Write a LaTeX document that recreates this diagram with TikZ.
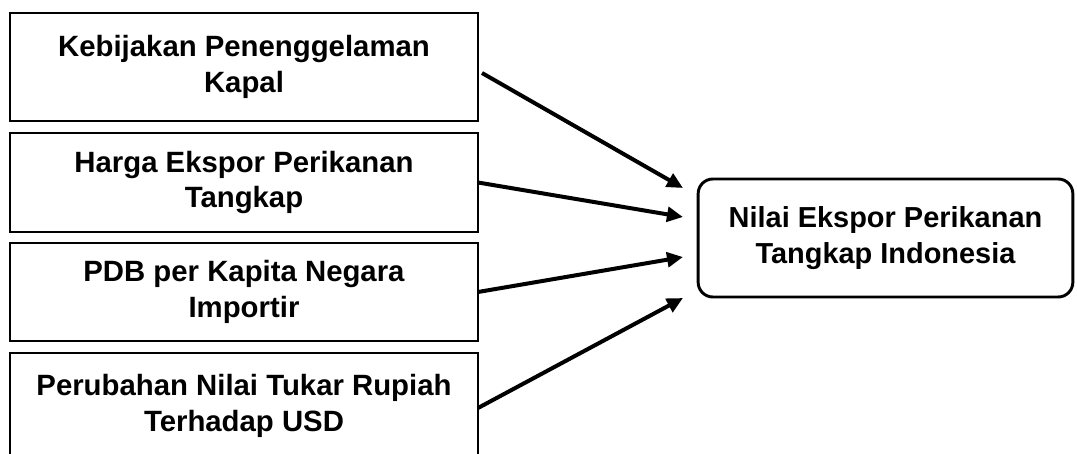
\documentclass[tikz,border=0pt]{standalone}
\usepackage{fontspec}
\setmainfont{Liberation Sans}
\usetikzlibrary{arrows.meta,calc}
\begin{document}
\begin{tikzpicture}[x=0.75pt,y=-0.75pt,
  src/.style={draw,line width=2.2pt,minimum width=351pt,inner sep=0pt,outer sep=0pt,align=center,font=\bfseries\fontsize{22}{26.5}\selectfont},
  tgt/.style={draw,line width=2.2pt,rounded corners=11pt,minimum width=281pt,minimum height=88.5pt,inner sep=0pt,outer sep=0pt,align=center,font=\bfseries\fontsize{21.7}{27}\selectfont},
  arr/.style={line width=3pt,-{Triangle[length=12pt,width=11pt]}}]
\useasboundingbox (0,0) rectangle (1077,453);
\node[src,minimum height=81pt] (b1) at (244,67) {Kebijakan Penenggelaman\\Kapal};
\node[src,minimum height=74.25pt] (b2) at (244,182.5) {Harga Ekspor Perikanan\\Tangkap};
\node[src,minimum height=73.5pt] (b3) at (244,292) {PDB per Kapita Negara\\Importir};
\node[src,minimum height=79.5pt] (b4) at (244,406) {Perubahan Nilai Tukar Rupiah\\Terhadap USD};
\node[tgt] (r) at (885.5,238) {Nilai Ekspor Perikanan\\Tangkap Indonesia};
\coordinate (t1) at (683,188);
\coordinate (t2) at (683,217);
\coordinate (t3) at (683,257);
\coordinate (t4) at (683,298);
\draw[arr] ($(b1.east)+(4,6)$) -- (t1);
\draw[arr] (b2.east) -- (t2);
\draw[arr] (b3.east) -- (t3);
\draw[arr] ($(b4.east)+(0,2)$) -- (t4);
\end{tikzpicture}
\end{document}
